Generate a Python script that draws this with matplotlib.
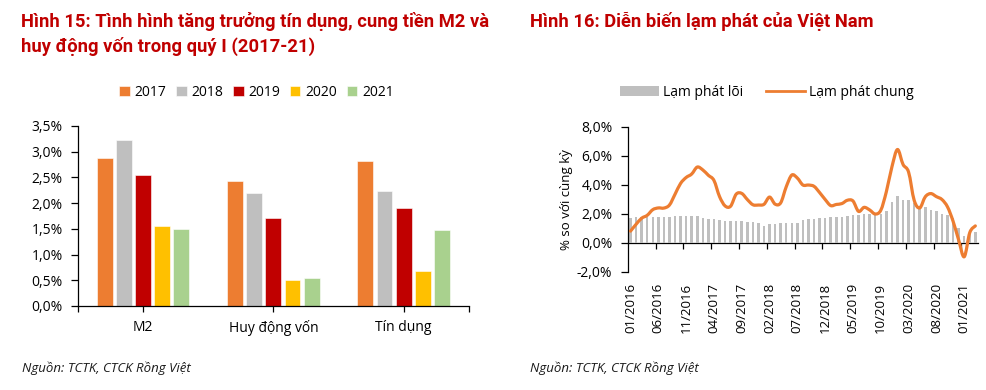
import matplotlib
matplotlib.use('Agg')
import matplotlib.pyplot as plt
import numpy as np
from matplotlib.path import Path
from matplotlib.patches import PathPatch, Patch
from matplotlib.lines import Line2D
from matplotlib.ticker import FixedLocator, NullFormatter

plt.rcParams['font.family'] = ['Open Sans', 'DejaVu Sans']

# Hình 15 data (% growth in Q1)
groups = ['M2', 'Huy động vốn', 'Tín dụng']
years = ['2017', '2018', '2019', '2020', '2021']
y2017 = [2.87, 2.43, 2.81]
y2018 = [3.23, 2.20, 2.23]
y2019 = [2.54, 1.72, 1.90]
y2020 = [1.55, 0.51, 0.68]
y2021 = [1.50, 0.55, 1.48]
year_colors = ['#ED7D31', '#BFBFBF', '#C00000', '#FFC000', '#A9D18E']

# Hình 16 data (% yoy, monthly 01/2016 - 03/2021)
headline = [0.80, 1.27, 1.69, 1.89, 2.28, 2.40, 2.39, 2.60, 3.34, 4.09, 4.50, 4.74,
            5.22, 5.02, 4.65, 4.30, 3.19, 2.54, 2.52, 3.35, 3.40, 2.98, 2.62, 2.60,
            2.65, 3.15, 2.66, 2.75, 3.86, 4.67, 4.46, 3.98, 3.98, 3.89, 3.46, 2.98,
            2.56, 2.64, 2.70, 2.93, 2.88, 2.16, 2.44, 2.26, 1.98, 2.24, 3.52, 5.23,
            6.43, 5.40, 4.87, 2.93, 2.40, 3.17, 3.39, 3.18, 2.98, 2.47, 1.48, 0.19,
            -0.97, 0.70, 1.16]
core = [1.70, 1.77, 1.76, 1.77, 1.78, 1.79, 1.80, 1.80, 1.81, 1.81, 1.81, 1.82,
        1.86, 1.68, 1.66, 1.62, 1.58, 1.52, 1.50, 1.48, 1.47, 1.45, 1.40, 1.36,
        1.15, 1.31, 1.32, 1.33, 1.33, 1.36, 1.38, 1.54, 1.61, 1.66, 1.68, 1.70,
        1.80, 1.80, 1.80, 1.84, 1.89, 1.94, 2.00, 2.00, 1.96, 1.98, 2.17, 2.79,
        3.25, 2.93, 2.93, 2.71, 2.51, 2.44, 2.28, 2.17, 1.98, 1.94, 1.70, 0.99,
        0.46, 0.62, 0.73]
month_labels = ['01/2016', '06/2016', '11/2016', '04/2017', '09/2017', '02/2018', '07/2018',
                '12/2018', '05/2019', '10/2019', '03/2020', '08/2020', '01/2021']

RED = '#C00000'
ORANGE = '#ED7D31'
GRAY = '#BFBFBF'

fig = plt.figure(figsize=(9.87, 3.9), dpi=100)

# ---------- titles ----------
title_kw = dict(color=RED, fontweight='bold', fontsize=13.2, family=['Roboto', 'DejaVu Sans'])
fig.text(0.021, 0.93, 'Hình 15: Tình hình tăng trưởng tín dụng, cung tiền M2 và', **title_kw)
fig.text(0.021, 0.867, 'huy động vốn trong quý I (2017-21)', **title_kw)
fig.text(0.537, 0.93, 'Hình 16: Diễn biến lạm phát của Việt Nam', **title_kw)

src_kw = dict(fontsize=9.5, style='italic', color='#1a1a1a')
fig.text(0.022, 0.045, 'Nguồn: TCTK, CTCK Rồng Việt', **src_kw)
fig.text(0.537, 0.045, 'Nguồn: TCTK, CTCK Rồng Việt', **src_kw)

# ---------- left chart ----------
ax1 = fig.add_axes([0.079, 0.2154, 0.396, 0.4616])
x = np.arange(len(groups))
slot = 0.147
for i, (vals, c) in enumerate(zip([y2017, y2018, y2019, y2020, y2021], year_colors)):
    ax1.bar(x + (i - 2) * slot, vals, width=0.122, color=c, label=years[i],
            edgecolor='white', linewidth=0.4)
ax1.set_xlim(-0.5, 2.5)
ax1.set_ylim(0, 3.5)
ax1.set_yticks(np.arange(0, 3.51, 0.5))
ax1.set_yticklabels([f'{v:.1f}%'.replace('.', ',') for v in np.arange(0, 3.51, 0.5)])
ax1.set_xticks(x)
ax1.set_xticklabels(groups)
ax1.xaxis.set_minor_locator(FixedLocator([-0.5, 2.5]))
for s in ['top', 'right']:
    ax1.spines[s].set_visible(False)
for s in ['left', 'bottom']:
    ax1.spines[s].set_linewidth(0.9)
ax1.tick_params(axis='y', length=5, width=0.9, labelsize=10, pad=6)
ax1.tick_params(axis='x', which='both', length=4, width=0.9, labelsize=10, pad=6)

fig.legend(*ax1.get_legend_handles_labels(), loc='center', bbox_to_anchor=(0.26, 0.764),
           ncol=5, frameon=False, fontsize=10, handlelength=0.75, handleheight=0.75,
           handletextpad=0.35, columnspacing=0.7)

# ---------- right chart ----------
ax2 = fig.add_axes([0.636, 0.3033, 0.355, 0.3717])
n = len(headline)
m = np.arange(n)
ax2.bar(m, core, width=0.45, color=GRAY, zorder=2)

# smoothed line (Excel-style bezier through the monthly points)
pts = np.column_stack([m, headline]).astype(float)
ext = np.vstack([pts[0], pts, pts[-1]])
verts = [tuple(pts[0])]
codes = [Path.MOVETO]
for k in range(n - 1):
    p0, p1, p2, p3 = ext[k], ext[k + 1], ext[k + 2], ext[k + 3]
    c1 = p1 + (p2 - p0) / 6.0
    c2 = p2 - (p3 - p1) / 6.0
    verts += [tuple(c1), tuple(c2), tuple(p2)]
    codes += [Path.CURVE4] * 3
ax2.add_patch(PathPatch(Path(verts, codes), fill=False, edgecolor=ORANGE, lw=2.3,
                        capstyle='round', joinstyle='round', zorder=3))

ax2.set_xlim(-0.5, n - 0.5)
ax2.set_ylim(-2, 8)
yt = np.arange(-2, 8.1, 2)
ax2.set_yticks(yt)
ax2.set_yticklabels([f'{v:.1f}%'.replace('.', ',') for v in yt])
ax2.set_ylabel('% so với cùng kỳ', fontsize=9.5, labelpad=3)
for s in ['top', 'right', 'bottom']:
    ax2.spines[s].set_visible(False)
ax2.spines['left'].set_linewidth(0.9)
ax2.tick_params(axis='y', length=5, width=0.9, labelsize=10, pad=6)

# month labels at the bottom
label_pos = m[::5]
ax2.set_xticks([])
ax2.set_xticks(label_pos, minor=True)
ax2.set_xticklabels(month_labels, minor=True, rotation=90)
ax2.tick_params(axis='x', which='minor', length=0, labelsize=9.5, pad=8)

# zero axis with tick marks at category boundaries
sec = ax2.secondary_xaxis(0.2)
sec.set_xticks(np.arange(4.5, n, 5))
sec.xaxis.set_major_formatter(NullFormatter())
sec.tick_params(length=4, width=0.9)
sec.spines['bottom'].set_linewidth(0.9)

fig.legend([Patch(facecolor=GRAY), Line2D([], [], color=ORANGE, lw=2)],
           ['Lạm phát lõi', 'Lạm phát chung'], loc='center', bbox_to_anchor=(0.777, 0.764),
           ncol=2, frameon=False, fontsize=10, handlelength=2.8, handleheight=0.7,
           handletextpad=0.3, columnspacing=1.6)

fig.savefig('out.png', dpi=100)
